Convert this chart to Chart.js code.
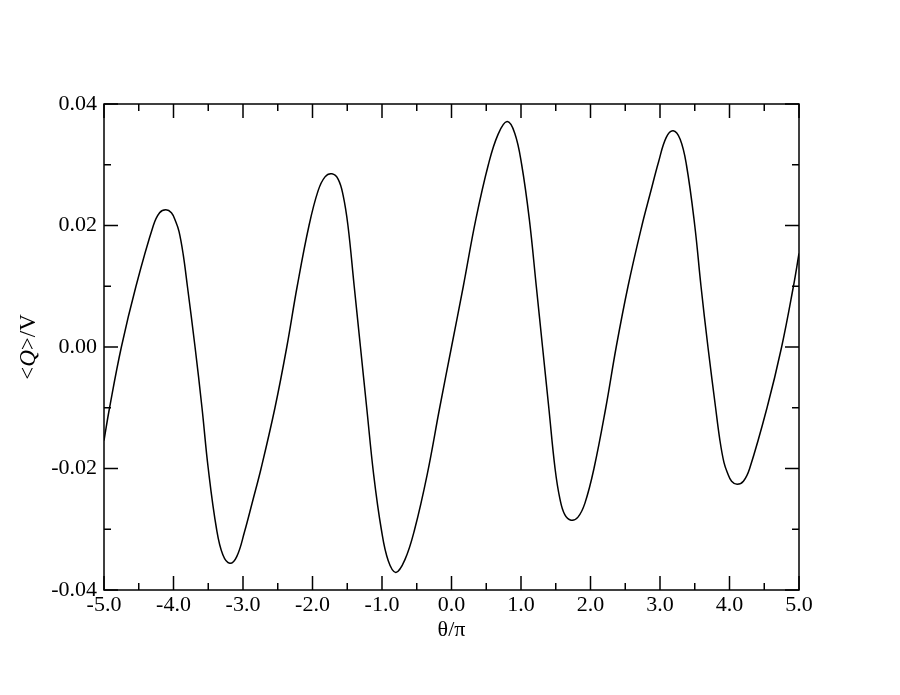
<!DOCTYPE html>
<html lang="en">
<head>
    <meta charset="UTF-8">
    <title>&lt;Q&gt;/V vs θ/π</title>
    <style>
        body { margin: 0; background: #fff; }
        #wrap { width: 900px; height: 695px; }
    </style>
</head>
<body>
    <div id="wrap"><canvas id="chart" width="900" height="695"></canvas></div>
    <script src="https://cdn.jsdelivr.net/npm/chart.js"></script>
    <script>
        // theta/pi and <Q>/V
        const thetaValues = [
            -5.00, -4.92, -4.75, -4.54, -4.29, -4.20, -4.11, -4.03, -3.97, -3.92,
            -3.86, -3.80, -3.69, -3.59, -3.50, -3.38, -3.29, -3.19, -3.09, -2.98,
            -2.86, -2.74, -2.54, -2.37, -2.22, -2.05, -1.92, -1.82, -1.72, -1.63,
            -1.56, -1.49, -1.40, -1.31, -1.22, -1.12, -1.01, -0.91, -0.80, -0.67,
            -0.53, -0.35, -0.17, 0.00, 0.17, 0.35, 0.53, 0.67, 0.80, 0.91,
            1.01, 1.12, 1.22, 1.31, 1.40, 1.49, 1.56, 1.63, 1.72, 1.82,
            1.92, 2.05, 2.22, 2.37, 2.54, 2.74, 2.86, 2.98, 3.09, 3.19,
            3.29, 3.38, 3.50, 3.59, 3.69, 3.80, 3.86, 3.92, 3.97, 4.03,
            4.11, 4.20, 4.29, 4.54, 4.75, 4.92, 5.00
        ];
        const qValues = [
            -0.0154, -0.0100, 0.0000, 0.0100, 0.0200, 0.0221, 0.0226, 0.0221, 0.0207, 0.0190,
            0.0152, 0.0100, 0.0000, -0.0100, -0.0200, -0.0300, -0.0342, -0.0356, -0.0345, -0.0305,
            -0.0253, -0.0200, -0.0100, 0.0000, 0.0100, 0.0200, 0.0257, 0.0280, 0.0285, 0.0276,
            0.0250, 0.0200, 0.0100, 0.0000, -0.0100, -0.0210, -0.0300, -0.0352, -0.0371, -0.0350,
            -0.0300, -0.0210, -0.0100, 0.0000, 0.0100, 0.0210, 0.0300, 0.0350, 0.0371, 0.0352,
            0.0300, 0.0210, 0.0100, 0.0000, -0.0100, -0.0200, -0.0250, -0.0276, -0.0285, -0.0280,
            -0.0257, -0.0200, -0.0100, 0.0000, 0.0100, 0.0200, 0.0253, 0.0305, 0.0345, 0.0356,
            0.0342, 0.0300, 0.0200, 0.0100, 0.0000, -0.0100, -0.0152, -0.0190, -0.0207, -0.0221,
            -0.0226, -0.0221, -0.0200, -0.0100, 0.0000, 0.0100, 0.0154
        ];
        const xMajorTicks = [-5, -4, -3, -2, -1, 0, 1, 2, 3, 4, 5];
        const xMinorTicks = [-4.5, -3.5, -2.5, -1.5, -0.5, 0.5, 1.5, 2.5, 3.5, 4.5];
        const yMajorTicks = [-0.04, -0.02, 0, 0.02, 0.04];
        const yMinorTicks = [-0.03, -0.01, 0.01, 0.03];

        const fontFamily = '"Liberation Serif", "Times New Roman", serif';

        // box with inward ticks on all four sides, and the y title with an italic Q
        const frame = {
            id: 'frame',
            afterDraw(chart) {
                const ctx = chart.ctx;
                const a = chart.chartArea;
                const xs = chart.scales.x;
                const ys = chart.scales.y;
                ctx.save();
                ctx.strokeStyle = '#000';
                ctx.lineWidth = 1.5;
                ctx.strokeRect(a.left, a.top, a.right - a.left, a.bottom - a.top);
                ctx.beginPath();
                const xt = (v, len) => {
                    const p = xs.getPixelForValue(v);
                    ctx.moveTo(p, a.bottom); ctx.lineTo(p, a.bottom - len);
                    ctx.moveTo(p, a.top); ctx.lineTo(p, a.top + len);
                };
                const yt = (v, len) => {
                    const p = ys.getPixelForValue(v);
                    ctx.moveTo(a.left, p); ctx.lineTo(a.left + len, p);
                    ctx.moveTo(a.right, p); ctx.lineTo(a.right - len, p);
                };
                xMajorTicks.forEach(v => xt(v, 14));
                xMinorTicks.forEach(v => xt(v, 7));
                yMajorTicks.forEach(v => yt(v, 14));
                yMinorTicks.forEach(v => yt(v, 7));
                ctx.stroke();

                // y title
                ctx.translate(29, (a.top + a.bottom) / 2);
                ctx.rotate(-Math.PI / 2);
                ctx.fillStyle = '#000';
                ctx.textBaseline = 'middle';
                const parts = [['<', ''], ['Q', 'italic '], ['>/V', '']];
                let total = 0;
                parts.forEach(p => { ctx.font = p[1] + '23px ' + fontFamily; total += ctx.measureText(p[0]).width; });
                let x = -total / 2;
                parts.forEach(p => {
                    ctx.font = p[1] + '23px ' + fontFamily;
                    ctx.fillText(p[0], x, 0);
                    x += ctx.measureText(p[0]).width;
                });
                ctx.restore();
            }
        };

        const points = thetaValues.map((t, i) => ({ x: t, y: qValues[i] }));

        new Chart(document.getElementById('chart'), {
            type: 'line',
            data: {
                datasets: [{
                    data: points,
                    borderColor: '#000',
                    borderWidth: 1.5,
                    pointRadius: 0,
                    fill: false,
                    tension: 0.4
                }]
            },
            options: {
                responsive: false,
                animation: false,
                layout: { padding: { top: 104, right: 101, left: 0, bottom: 50 } },
                plugins: { legend: { display: false }, tooltip: { enabled: false } },
                scales: {
                    x: {
                        type: 'linear',
                        min: -5,
                        max: 5,
                        afterFit: s => { s.height = 55; },
                        grid: { display: false, drawTicks: false },
                        border: { display: false },
                        ticks: {
                            stepSize: 1,
                            padding: 2,
                            color: '#000',
                            font: { family: fontFamily, size: 22 },
                            callback: v => v.toFixed(1)
                        },
                        title: {
                            display: true,
                            text: 'θ/π',
                            color: '#000',
                            padding: { top: 0, bottom: 2 },
                            font: { family: fontFamily, size: 22 }
                        }
                    },
                    y: {
                        min: -0.04,
                        max: 0.04,
                        afterFit: s => { s.width = 104; },
                        grid: { display: false, drawTicks: false },
                        border: { display: false },
                        ticks: {
                            stepSize: 0.02,
                            padding: 7,
                            color: '#000',
                            font: { family: fontFamily, size: 22 },
                            callback: v => v.toFixed(2)
                        }
                    }
                }
            },
            plugins: [frame]
        });
    </script>
</body>
</html>
